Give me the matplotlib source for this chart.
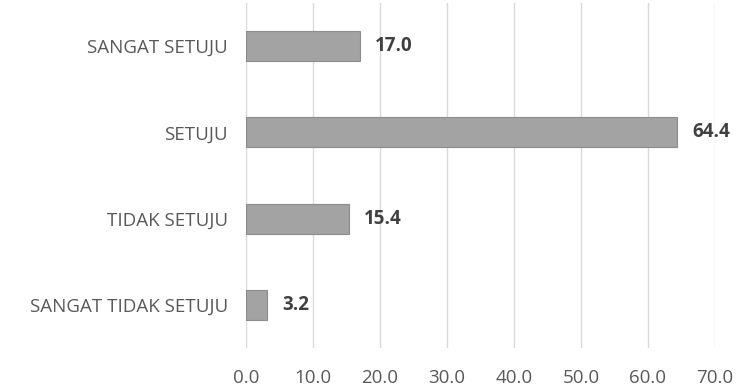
import matplotlib.pyplot as plt
import numpy as np

categories = ["SANGAT TIDAK SETUJU", "TIDAK SETUJU", "SETUJU", "SANGAT SETUJU"]
values = [3.2, 15.4, 64.4, 17.0]
xticks = [0, 10, 20, 30, 40, 50, 60, 70]

plt.rcParams['font.family'] = ['Open Sans', 'DejaVu Sans']

fig = plt.figure(figsize=(7.48, 3.87), dpi=100)
ax = fig.add_axes([246 / 748, 1 - 348 / 387, (715 - 246) / 748, 345 / 387])

y = np.arange(len(categories))
ax.barh(y, values, height=0.35, color="#a3a3a3", edgecolor="#8c8c8c",
        linewidth=0.8, zorder=3)

for yi, v in zip(y, values):
    ax.text(v + 2.2, yi, "%.1f" % v, va="center", ha="left",
            fontsize=13.5, fontweight="bold", color="#404040")

ax.set_xlim(0, 70)
ax.set_ylim(-0.5, 3.5)
ax.set_xticks(xticks)
ax.set_xticklabels(["%.1f" % t for t in xticks])
ax.set_yticks(y)
ax.set_yticklabels(categories)
ax.tick_params(axis="both", length=0, labelsize=13.5, colors="#595959")
ax.tick_params(axis="x", pad=15)
ax.tick_params(axis="y", pad=13)

ax.grid(axis="x", color="#d9d9d9", linewidth=1, zorder=0)
for s in ax.spines.values():
    s.set_visible(False)

fig.savefig("out.png", dpi=100)
